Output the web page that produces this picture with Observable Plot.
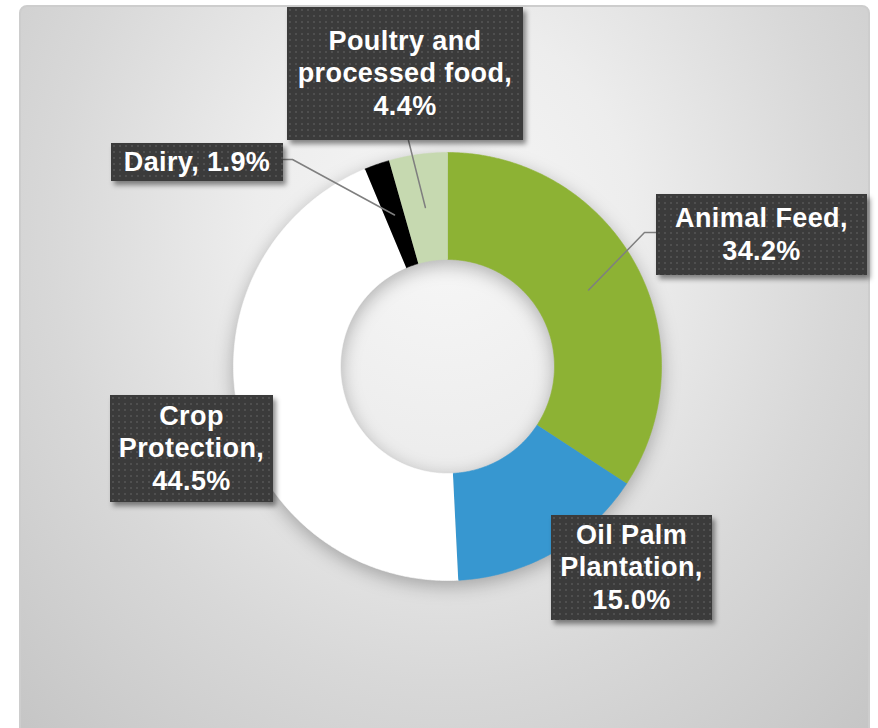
<!DOCTYPE html>
<html>
<head>
<meta charset="utf-8">
<script src="https://cdn.jsdelivr.net/npm/d3@7"></script>
<script src="https://cdn.jsdelivr.net/npm/@observablehq/plot@0.6"></script>
<style>
  html, body { margin: 0; padding: 0; width: 878px; height: 728px; overflow: hidden; background: #fff; font-family: "Liberation Sans", Arial, sans-serif; }
  #frame { position: absolute; left: 19px; top: 5px; width: 847px; height: 760px; border: 2px solid #cdcdcd; border-radius: 8px;
    background: radial-gradient(ellipse 75% 95% at 50% 30%, #f7f7f7 0%, #ededed 30%, #d8d8d8 62%, #c3c3c3 100%); }
  #chart { position: absolute; left: 0; top: 0; }
  .lbl { position: absolute; display: flex; align-items: center; justify-content: center; text-align: center;
    color: #fff; font-weight: bold; font-size: 27px; letter-spacing: 0.4px; line-height: 32.5px;
    background-color: #3b3b3b;
    background-image: radial-gradient(circle, #4f4f4f 0.9px, transparent 1.4px);
    background-size: 6px 6px;
    box-shadow: 3px 4px 5px rgba(0,0,0,0.45); }
</style>
</head>
<body>
<div id="frame"></div>
<div id="chart"></div>
<script>
// ---- data ----
const categories = ["Animal Feed", "Oil Palm Plantation", "Crop Protection", "Dairy", "Poultry and processed food"];
const shares = [34.2, 15.0, 44.5, 1.9, 4.4];
const sliceColors = ["#8db234", "#3797d0", "#ffffff", "#000000", "#c6d9b0"];
const labelLines = [
  ["Animal Feed,", "34.2%"],
  ["Oil Palm", "Plantation,", "15.0%"],
  ["Crop", "Protection,", "44.5%"],
  ["Dairy, 1.9%"],
  ["Poultry and", "processed food,", "4.4%"]
];

// ---- layout (pixels) ----
const W = 878, H = 728, cx = 447, cy = 366, rOut = 214, rIn = 107;
const labelBoxes = [ // left, top, width, height
  [656, 194, 211, 81],
  [551, 515, 161, 105],
  [110, 395, 163, 107],
  [111, 143, 172, 38],
  [287, 7, 236, 133]
];
// leader anchors (pixel) for labelled slices: [box point, elbow point] or null
const leaderAnchors = [
  [[656, 232], [644, 232]],
  null,
  null,
  [[283, 159], [292, 159]],
  [[408, 140]]
];

// ---- geometry derived from data ----
const total = d3.sum(shares);
const ringPts = [];
const centroids = [];
let acc = 0;
categories.forEach((name, i) => {
  const a0 = acc / total * 2 * Math.PI;
  acc += shares[i];
  const a1 = acc / total * 2 * Math.PI;
  const n = Math.max(2, Math.ceil((a1 - a0) / (Math.PI / 360)));
  for (let k = 0; k <= n; k++) {
    const a = a0 + (a1 - a0) * k / n;
    ringPts.push({name, x: rOut * Math.sin(a), y: rOut * Math.cos(a)});
  }
  for (let k = n; k >= 0; k--) {
    const a = a0 + (a1 - a0) * k / n;
    ringPts.push({name, x: rIn * Math.sin(a), y: rIn * Math.cos(a)});
  }
  const am = (a0 + a1) / 2, rm = (rIn + rOut) / 2;
  centroids.push({x: rm * Math.sin(am), y: rm * Math.cos(am)});
});

const leaderPts = [];
leaderAnchors.forEach((anch, i) => {
  if (!anch) return;
  anch.forEach(([px, py]) => leaderPts.push({name: categories[i], x: px - cx, y: cy - py}));
  leaderPts.push({name: categories[i], x: centroids[i].x, y: centroids[i].y});
});

const svg = Plot.plot({
  width: W, height: H, margin: 0,
  style: {background: "transparent", overflow: "visible"},
  x: {domain: [-cx, W - cx], axis: null},
  y: {domain: [-(H - cy), cy], axis: null},
  color: {domain: categories, range: sliceColors},
  marks: [
    Plot.line(ringPts, {x: "x", y: "y", z: "name", fill: "name", stroke: "name", strokeWidth: 0.6}),
    Plot.line(leaderPts, {x: "x", y: "y", z: "name", stroke: "#7f7f7f", strokeWidth: 1.5})
  ]
});
const ring = svg.querySelector('g[aria-label="line"]');
if (ring) ring.style.filter = "drop-shadow(0px 5px 9px rgba(0,0,0,0.28))";
document.getElementById("chart").appendChild(svg);

// ---- labels ----
labelLines.forEach((lines, i) => {
  const [l, t, w, h] = labelBoxes[i];
  const div = document.createElement("div");
  div.className = "lbl";
  div.style.left = l + "px"; div.style.top = t + "px";
  div.style.width = w + "px"; div.style.height = h + "px";
  const inner = document.createElement("div");
  inner.innerHTML = lines.map(s => s.replace(/&/g, "&amp;").replace(/</g, "&lt;")).join("<br>");
  div.appendChild(inner);
  document.body.appendChild(div);
});
</script>
</body>
</html>
